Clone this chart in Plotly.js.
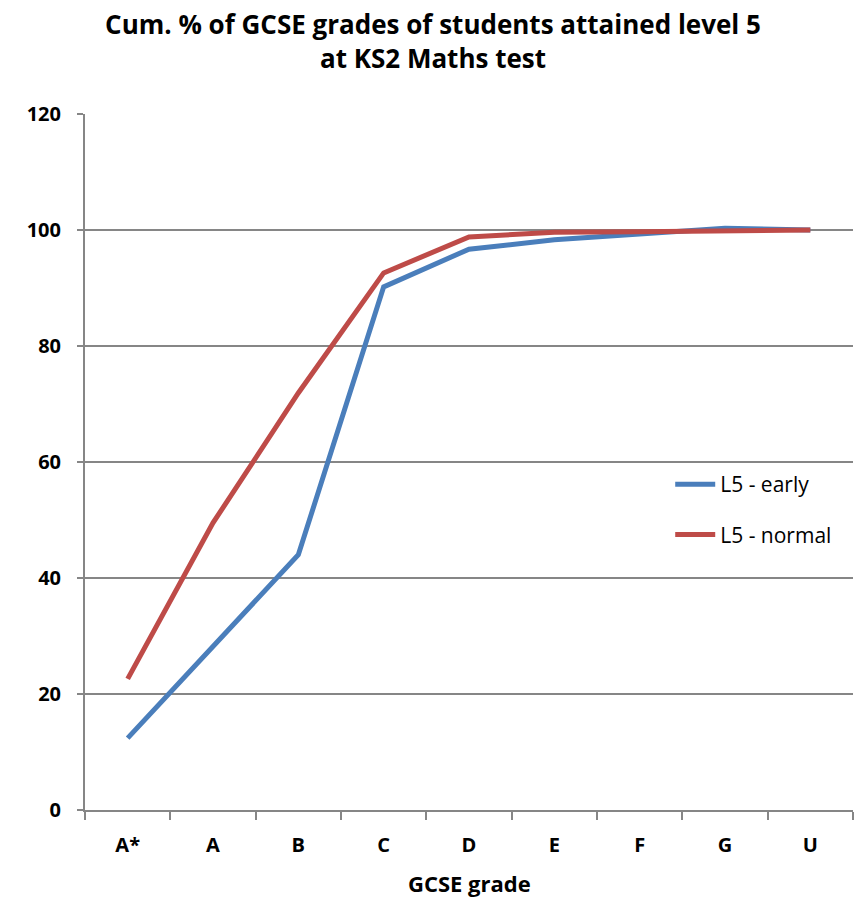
<!DOCTYPE html>
<html>
<head>
<meta charset="utf-8">
<script src="https://cdn.plot.ly/plotly-3.0.1.min.js"></script>
<style>html,body{margin:0;padding:0;background:#fff;}#chart{width:866px;height:899px;}</style>
</head>
<body>
<div id="chart"></div>
<script>
const grades = ["A*", "A", "B", "C", "D", "E", "F", "G", "U"];
const early = [12.4, 28.3, 44.0, 90.2, 96.7, 98.3, 99.4, 100.3, 100.0];
const normal = [22.6, 49.5, 71.9, 92.6, 98.8, 99.6, 99.7, 99.8, 100.0];
const yTicks = [0, 20, 40, 60, 80, 100, 120];
const xTitle = "GCSE grade";

const font = "'Open Sans', 'DejaVu Sans', sans-serif";

const traces = [
  {x: grades, y: early, name: "L5 - early", type: "scatter", mode: "lines",
   line: {color: "#4A7EBB", width: 5}, legendgroup: "a"},
  {x: grades, y: normal, name: "L5 - normal", type: "scatter", mode: "lines",
   line: {color: "#BE4B48", width: 5}, legendgroup: "b"}
];

const layout = {
  width: 866, height: 899,
  margin: {l: 85, r: 13, t: 114, b: 89},
  paper_bgcolor: "#fff", plot_bgcolor: "#fff",
  font: {family: font, color: "#000", size: 18},
  title: {text: "<b>Cum. % of GCSE grades of students attained level 5<br>at KS2 Maths test</b>",
          x: 0.5, xanchor: "center", y: 0.962, yanchor: "middle",
          font: {family: font, size: 26, color: "#000"}},
  xaxis: {type: "category", categoryorder: "array", categoryarray: grades, range: [-0.5, 8.5],
          showline: true, linecolor: "#868686", linewidth: 2,
          ticks: "outside", tickson: "boundaries", ticklen: 8, tickcolor: "#868686", tickwidth: 2,
          showgrid: false, zeroline: false, ticklabelstandoff: 16,
          tickfont: {family: font, size: 20, color: "#000", weight: "bold"}},
  yaxis: {range: [0, 120], tickvals: yTicks, ticktext: yTicks.map(String),
          showline: true, linecolor: "#868686", linewidth: 2,
          ticks: "outside", ticklen: 6, tickcolor: "#868686", tickwidth: 2,
          showgrid: true, gridcolor: "#868686", gridwidth: 2, zeroline: false, ticklabelstandoff: 12,
          tickfont: {family: font, size: 20, color: "#000", weight: "bold"}},
  annotations: [{text: xTitle, xref: "paper", yref: "paper", x: 0.5, y: -0.105,
                 xanchor: "center", yanchor: "middle", showarrow: false,
                 font: {family: font, size: 22, color: "#000", weight: "bold"}}],
  showlegend: true,
  legend: {x: 0.762, y: 0.497, xanchor: "left", yanchor: "top",
           bgcolor: "rgba(0,0,0,0)", traceorder: "grouped", tracegroupgap: 20,
           font: {family: font, size: 21, color: "#000"}, itemwidth: 40}
};

Plotly.newPlot("chart", traces, layout, {displayModeBar: false, responsive: false});
</script>
</body>
</html>
